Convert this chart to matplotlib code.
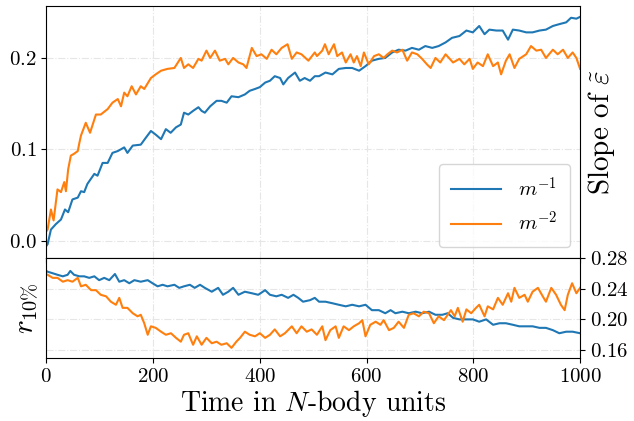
import numpy as np
import matplotlib
matplotlib.use("Agg")
import matplotlib.pyplot as plt
from matplotlib.ticker import FuncFormatter

# slope of eps tilde, m^-1
t_top_1 = [0, 2.5, 8.7, 18, 27.5, 35, 41, 49, 59, 65, 71, 77, 90, 96, 105.5, 115,
           124, 134, 146, 152, 162, 177, 187, 196, 205, 215, 224, 233, 243, 252, 258,
           266, 275, 285, 291, 297, 307, 319, 328, 338, 347, 360, 372, 381, 391, 400,
           410, 419, 428, 438, 444, 453, 466, 475, 484, 494, 503,
           511, 523, 536, 548, 561, 573, 586, 598, 610, 623, 635, 648, 660, 673, 685,
           698, 710, 723, 735, 748, 760,
           774, 787, 799, 811, 821, 830, 843, 855, 865, 874, 886, 899, 911, 924, 936,
           949, 961, 974, 983, 993, 1000]
slope_1 = [-0.006, -0.004, 0.012, 0.018, 0.023, 0.034, 0.031, 0.045, 0.047, 0.054,
           0.053, 0.062, 0.073, 0.071, 0.085, 0.085, 0.096, 0.098, 0.102, 0.096,
           0.104, 0.105, 0.113, 0.120, 0.116, 0.111, 0.122, 0.118, 0.124, 0.127, 0.140,
           0.138, 0.142, 0.146, 0.142, 0.140, 0.147, 0.153, 0.153, 0.151, 0.158, 0.157,
           0.160, 0.164, 0.166, 0.168, 0.173, 0.175, 0.180, 0.178, 0.171, 0.178, 0.184,
           0.175, 0.178, 0.175, 0.180,
           0.180, 0.184, 0.182, 0.188, 0.189, 0.189, 0.186, 0.191, 0.197, 0.199, 0.200,
           0.206, 0.209, 0.208, 0.211, 0.209, 0.213, 0.211, 0.213, 0.217, 0.222,
           0.224, 0.230, 0.228, 0.235, 0.226, 0.231, 0.230, 0.230, 0.220, 0.231, 0.230,
           0.228, 0.228, 0.230, 0.231, 0.235, 0.237, 0.239, 0.244, 0.243, 0.245]

# slope of eps tilde, m^-2
t_top_2 = [0, 2.5, 8.7, 13.7, 21, 27.5, 33.7, 36.8, 41, 46, 52, 59, 62, 65, 74, 82,
           93, 102, 115, 124, 134, 140, 146, 152, 160, 168, 177, 183.5, 196, 205, 215,
           227, 240, 252, 258,
           266, 275, 285, 291, 300, 307, 316, 325, 335, 341, 350, 360, 369, 375, 385,
           394, 403, 413, 422, 431, 441, 452, 460, 469, 478, 491, 503,
           507, 517, 522, 529, 539, 545, 554, 561, 570, 576, 582, 589, 595, 604, 614,
           623, 632, 639, 648, 657, 667, 676, 685, 695, 704, 713, 720, 729, 738, 748,
           762, 774, 783, 793, 799, 808, 818, 827, 837, 846, 852, 861, 868, 877, 886,
           899, 908, 918, 927, 936, 949, 958, 968, 977, 986, 993, 1000]
slope_2 = [0.010, 0.012, 0.034, 0.022, 0.056, 0.053, 0.064, 0.054, 0.078, 0.093,
           0.095, 0.098, 0.107, 0.115, 0.129, 0.118, 0.138, 0.138, 0.144, 0.151,
           0.155, 0.147, 0.162, 0.158, 0.169, 0.160, 0.169, 0.166, 0.178, 0.182,
           0.186, 0.188, 0.189, 0.200, 0.189,
           0.193, 0.189, 0.199, 0.197, 0.208, 0.200, 0.208, 0.197, 0.199, 0.193, 0.200,
           0.195, 0.193, 0.189, 0.211, 0.202, 0.204, 0.199, 0.209, 0.204, 0.211, 0.215,
           0.199, 0.206, 0.204, 0.197, 0.206,
           0.202, 0.208, 0.215, 0.204, 0.215, 0.202, 0.206, 0.195, 0.204, 0.195, 0.202,
           0.191, 0.206, 0.193, 0.202, 0.204, 0.200, 0.204, 0.208, 0.206, 0.209, 0.197,
           0.206, 0.204, 0.199, 0.193, 0.189, 0.200, 0.195, 0.204,
           0.195, 0.199, 0.193, 0.199, 0.188, 0.195, 0.191, 0.204, 0.191, 0.195, 0.182,
           0.197, 0.204, 0.189, 0.199, 0.204, 0.213, 0.208, 0.209, 0.200, 0.209, 0.204,
           0.209, 0.200, 0.206, 0.200, 0.188]

# r_10%, m^-1
t_bot_1 = [0, 2.5, 12, 21, 31, 40, 45, 52, 62, 71, 80.5, 90, 99, 108.6, 118, 128.6,
           136.7, 146, 155.5, 165, 177, 190, 199, 208.5, 218, 227, 240, 249, 258,
           269, 278, 288, 297, 310, 322, 331, 341, 350, 360, 372, 385, 397, 410, 419,
           431, 441, 453, 463, 472, 481, 494, 503,
           511, 523, 536, 548, 561, 573, 586, 598, 610, 623, 635, 645, 654, 667, 679,
           692, 704, 717, 729, 742, 752,
           762, 774, 787, 799, 811, 824, 837, 849, 861, 874, 886, 899, 911, 924, 936,
           949, 961, 974, 986, 1000]
r10_1 = [0.263, 0.262, 0.260, 0.258, 0.256, 0.258, 0.263, 0.258, 0.256, 0.256,
         0.254, 0.256, 0.251, 0.254, 0.251, 0.259, 0.249, 0.251, 0.247, 0.251,
         0.249, 0.251, 0.247, 0.243, 0.245, 0.243, 0.245, 0.241, 0.243,
         0.245, 0.241, 0.245, 0.241, 0.236, 0.241, 0.232, 0.236, 0.241, 0.232, 0.236,
         0.234, 0.232, 0.238, 0.232, 0.230, 0.232, 0.228, 0.232, 0.228, 0.223, 0.225,
         0.228,
         0.223, 0.223, 0.221, 0.219, 0.217, 0.219, 0.217, 0.219, 0.212, 0.212, 0.208,
         0.212, 0.208, 0.210, 0.208, 0.210, 0.208, 0.210, 0.206, 0.206, 0.208,
         0.202, 0.200, 0.200, 0.200, 0.197, 0.200, 0.193, 0.195, 0.195, 0.193, 0.191,
         0.191, 0.191, 0.189, 0.189, 0.186, 0.182, 0.184, 0.184, 0.182]

# r_10%, m^-2
t_bot_2 = [0, 2.5, 12, 21, 31, 40, 49, 59, 65, 74, 84, 93, 102, 112, 121, 130.5,
           136.7, 143, 152, 162, 171, 177, 183.5, 190, 196, 205, 215, 224, 233.5, 243,
           252, 258,
           266, 275, 282, 291, 300, 310, 319, 328, 338, 347, 356, 363, 372, 381, 391,
           400, 410, 419, 428, 438, 447, 460, 469, 478, 488, 497,
           507, 517, 523, 532, 542, 548, 557, 567, 576, 586, 592, 598, 607, 617, 626,
           632, 642, 651, 660, 670, 679, 688, 698, 707, 717, 726, 735, 745,
           758, 765, 771, 780, 787, 796, 805, 811, 821, 827, 837, 846, 855, 865, 871,
           877, 886, 896, 902, 911, 921, 930, 936, 946, 955, 964, 971, 977, 985, 993,
           1000]
r10_2 = [0.259, 0.258, 0.254, 0.254, 0.249, 0.251, 0.249, 0.254, 0.243, 0.245,
         0.238, 0.238, 0.232, 0.230, 0.223, 0.219, 0.228, 0.215, 0.215, 0.208,
         0.204, 0.206, 0.195, 0.180, 0.191, 0.189, 0.184, 0.180, 0.182, 0.176,
         0.171, 0.180,
         0.182, 0.167, 0.178, 0.167, 0.176, 0.169, 0.171, 0.167, 0.169, 0.163, 0.171,
         0.176, 0.184, 0.180, 0.178, 0.182, 0.176, 0.180, 0.187, 0.178, 0.182, 0.191,
         0.182, 0.191, 0.184, 0.187,
         0.180, 0.191, 0.173, 0.186, 0.191, 0.176, 0.191, 0.186, 0.191, 0.195, 0.199,
         0.178, 0.193, 0.197, 0.193, 0.199, 0.186, 0.189, 0.197, 0.189, 0.206, 0.208,
         0.204, 0.210, 0.208, 0.195, 0.204, 0.199,
         0.212, 0.204, 0.215, 0.197, 0.213, 0.208, 0.215, 0.219, 0.204, 0.217, 0.213,
         0.228, 0.219, 0.234, 0.223, 0.241, 0.228, 0.232, 0.223, 0.236, 0.241, 0.230,
         0.223, 0.241, 0.232, 0.219, 0.212, 0.232, 0.247, 0.234, 0.241]

labels = [r"$m^{-1}$", r"$m^{-2}$"]

plt.rcParams["font.family"] = "serif"
plt.rcParams["font.serif"] = ["cmr10", "DejaVu Serif"]
plt.rcParams["mathtext.fontset"] = "cm"
plt.rcParams["axes.formatter.use_mathtext"] = True

fig, (ax, ax2) = plt.subplots(
    2, 1, figsize=(6.34, 4.21), dpi=100, sharex=True,
    gridspec_kw={"height_ratios": [252, 100], "hspace": 0},
)
fig.subplots_adjust(left=0.073, right=0.915, top=0.986, bottom=0.150)

ax.plot(t_top_1, slope_1, color="#1f77b4", lw=1.5, label=labels[0])
ax.plot(t_top_2, slope_2, color="#ff7f0e", lw=1.5, label=labels[1])
ax2.plot(t_bot_1, r10_1, color="#1f77b4", lw=1.5)
ax2.plot(t_bot_2, r10_2, color="#ff7f0e", lw=1.5)

ax.set_xlim(0, 1000)
ax.set_ylim(-0.019, 0.257)
ax.set_yticks([0.0, 0.1, 0.2])
ax.yaxis.set_major_formatter(FuncFormatter(lambda v, p: f"${v:.1f}$"))
ax.yaxis.set_label_position("right")
ax.set_ylabel(r"Slope of $\tilde{\varepsilon}$", fontsize=21)
ax.legend(loc="lower right", fontsize=15, handlelength=2.4, borderpad=0.6,
          labelspacing=0.5, bbox_to_anchor=(1.0, 0.0), borderaxespad=0.5)

ax2.set_ylim(0.15, 0.28)
ax2.set_yticks([0.16, 0.20, 0.24, 0.28])
ax2.yaxis.tick_right()
ax2.yaxis.set_major_formatter(FuncFormatter(lambda v, p: f"${v:.2f}$"))
ax2.set_ylabel(r"$r_{10\%}$", fontsize=21)
ax2.set_xticks([0, 200, 400, 600, 800, 1000])
ax2.xaxis.set_major_formatter(FuncFormatter(lambda v, p: f"${v:.0f}$"))
ax2.set_xlabel(r"Time in $N$-body units", fontsize=20, labelpad=2)

for a in (ax, ax2):
    a.grid(True, ls="-.", lw=0.8, color="#e6e6e6")
    a.tick_params(labelsize=15)

plt.savefig("out.png", dpi=100)
